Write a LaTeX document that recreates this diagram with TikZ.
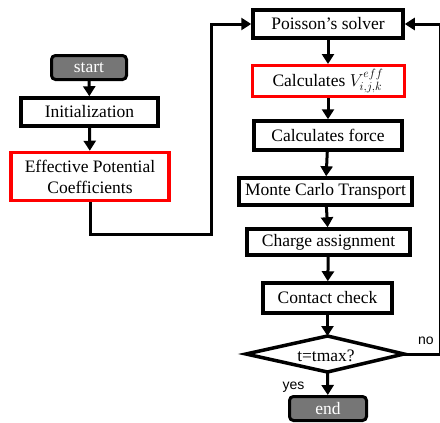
\documentclass[tikz,border=0pt]{standalone}
\usepackage{fontspec}
\setmainfont{Liberation Serif}
\setsansfont{Liberation Sans}
\usetikzlibrary{arrows.meta,shapes.geometric}
\tikzset{
  x=1pt,y=-1pt,
  box/.style={draw=black,line width=3.5pt,fill=white,inner sep=0pt,font=\fontsize{17.5}{21}\selectfont,align=center},
  redbox/.style={box,draw=red},
  term/.style={box,fill={rgb,255:red,118;green,118;blue,118},rounded corners=4pt,text=white,line width=3pt},
  conn/.style={line width=3pt,-{Triangle[width=12pt,length=10pt]}},
  diamline/.style={draw=black,fill=white,line width=3.5pt,line join=miter,miter limit=20},
  txt/.style={inner sep=0pt,font=\fontsize{17.5}{21}\selectfont},
  lbl/.style={font=\sffamily\fontsize{14}{16}\selectfont,inner sep=0pt}
}
\begin{document}
\begin{tikzpicture}
\useasboundingbox (0,0) rectangle (440,423);
% left column
\node[term,minimum width=75,minimum height=24] (start) at (89,67.5) {start};
\node[box,minimum width=137,minimum height=28] (init) at (89.5,112) {Initialization};
\node[redbox,minimum width=158,minimum height=48] (epc) at (90,176.5) {Effective Potential\\Coefficients};
% right column
\node[box,minimum width=150,minimum height=28] (pois) at (328,24) {Poisson’s solver};
\node[redbox,line width=3pt,minimum width=152,minimum height=31] (calcv) at (328,81) {Calculates $V_{i,j,k}^{eff}$};
\node[box,minimum width=148,minimum height=29] (force) at (328,135.5) {Calculates force};
\node[box,minimum width=173,minimum height=27] (mc) at (325.5,191.5) {Monte Carlo Transport};
\node[box,minimum width=163,minimum height=26] (charge) at (328.5,242) {Charge assignment};
\node[box,minimum width=129,minimum height=30] (contact) at (327.5,298) {Contact check};
% decision diamond
\coordinate (dT) at (327.5,336);
\coordinate (dR) at (404,354);
\coordinate (dB) at (327.5,372);
\coordinate (dL) at (246,354);
\draw[diamline] (dT) -- (dR) -- (dB) -- (dL) -- cycle;
\node[txt] (diam) at (326,356) {t=tmax?};
\node[term,minimum width=77,minimum height=24] (end) at (328,408.5) {end};
% labels
\node[lbl] (yes) at (293.5,387) {yes};
\node[lbl] (no) at (426,341) {no};
% coordinates
\coordinate (l2) at (211,234);
\coordinate (r1) at (440,354);
% connectors
\draw[conn] (start) -- (init);
\draw[conn] (init) -- (epc);
\draw[conn] (epc.south) |- (l2) |- (pois.west);
\draw[conn] (pois) -- (calcv);
\draw[conn] (calcv) -- (force);
\draw[conn] (force) -- (mc);
\draw[conn] (mc) -- (charge);
\draw[conn] (charge) -- (contact);
\draw[conn] (contact) -- (dT);
\draw[conn] (dB) -- (end);
\draw[conn] (dR) -- (r1) |- (pois.east);
\end{tikzpicture}
\end{document}
